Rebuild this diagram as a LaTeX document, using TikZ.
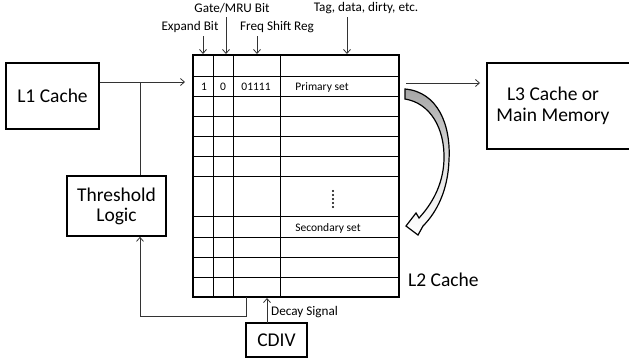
\documentclass[tikz,border=0pt]{standalone}
\usepackage{fontspec}
\setmainfont{Carlito}
\usetikzlibrary{arrows.meta,calc}
\begin{document}
\begin{tikzpicture}[x=1pt,y=-1pt,
  box/.style={draw=black,line width=1.6pt,inner sep=0pt,font=\fontsize{19.5}{22}\selectfont,align=center},
  conn/.style={draw=black!80,line width=0.8pt},
  arr/.style={conn,-{Straight Barb[length=4pt,width=7pt,line width=0.8pt]}},
  small/.style={font=\fontsize{13.2}{15}\selectfont,inner sep=0pt},
  cell/.style={font=\fontsize{11.5}{13}\selectfont,inner sep=0pt},
  grid/.style={draw=black,line width=1pt}]
\useasboundingbox (0,0) rectangle (629,362);
% boxes
\node[box,minimum width=93,minimum height=66] (l1) at (52.5,96) {L1 Cache};
\node[box,minimum width=99,minimum height=60] (th) at (116.5,206) {Threshold\\[-2pt]Logic};
\node[box,minimum width=160,minimum height=86,anchor=west] (l3) at (486,106) {};
\node[font=\fontsize{19.5}{22}\selectfont,align=center,inner sep=0pt] (l3t) at (553,106) {L3 Cache or\\[-1pt]Main Memory};
\node[box,minimum width=61,minimum height=34] (cdiv) at (276.5,340) {CDIV};
% L2 table
\node[draw=black,line width=2pt,minimum width=206,minimum height=242,inner sep=0pt] (l2) at (296,176) {};
\foreach \x in {213,233,280} \draw[grid] (\x,55) -- (\x,297);
\foreach \y in {76,96,116,136,156,176,216,237,257,277} \draw[grid] (193,\y) -- (399,\y);
\node[cell] (c1) at (204,86.5) {1};
\node[cell] (c2) at (223,86.5) {0};
\node[cell] (c3) at (256,86.5) {01111};
\node[cell] (ps) at (322,87) {Primary set};
\node[cell] (ss) at (328,228) {Secondary set};
\foreach \y in {191,195,199,203,207} \fill (333,\y) circle (1.1);
\node[font=\fontsize{19.5}{22}\selectfont,inner sep=0pt,anchor=west] (l2t) at (408,280) {L2 Cache};
% top labels
\node[small] (gate) at (232,8) {Gate/MRU Bit};
\node[small] (tag) at (366,8) {Tag, data, dirty, etc.};
\node[small] (exp) at (190,27) {Expand Bit};
\node[small] (freq) at (277,27) {Freq Shift Reg};
\coordinate (ea) at (203,36);
\coordinate (ga) at (226,17);
\coordinate (fa) at (257,36);
\coordinate (ta) at (347,17);
\draw[arr] (ea) -- (ea |- l2.north);
\draw[arr] (ga) -- (ga |- l2.north);
\draw[arr] (fa) -- (fa |- l2.north);
\draw[arr] (ta) -- (ta |- l2.north);
% connectors
\coordinate (j) at (140,82);
\draw[conn] (l1.east |- j) -- (j);
\draw[arr,shorten >=7pt] (j) -- (l2.west |- j);
\draw[conn] (th.north -| j) -- (j);
\coordinate (fb) at (246,297);
\coordinate (fc) at (246,316);
\draw[arr] (fb) -- (fc) -| (th.south -| j);
\coordinate (ds) at (267,323);
\draw[arr] (ds) -- (ds |- l2.south);
\node[small,anchor=west] (dst) at (271,312) {Decay Signal};
\coordinate (oa) at (406,83);
\draw[arr,shorten >=6pt] (oa) -- (l3.west |- oa);
% curved block arrow
\path[draw=black,line width=1.2pt,top color=black!35,bottom color=white,middle color=black!12]
  (405,89) .. controls (438,92) and (451,125) .. (449,160)
  .. controls (448,190) and (437,212) .. (423,226)
  -- (418,235) -- (406,226) -- (416,213) -- (419,218)
  .. controls (431,205) and (443,186) .. (444,160)
  .. controls (445,128) and (430,103) .. (405,99) -- cycle;
\end{tikzpicture}
\end{document}
